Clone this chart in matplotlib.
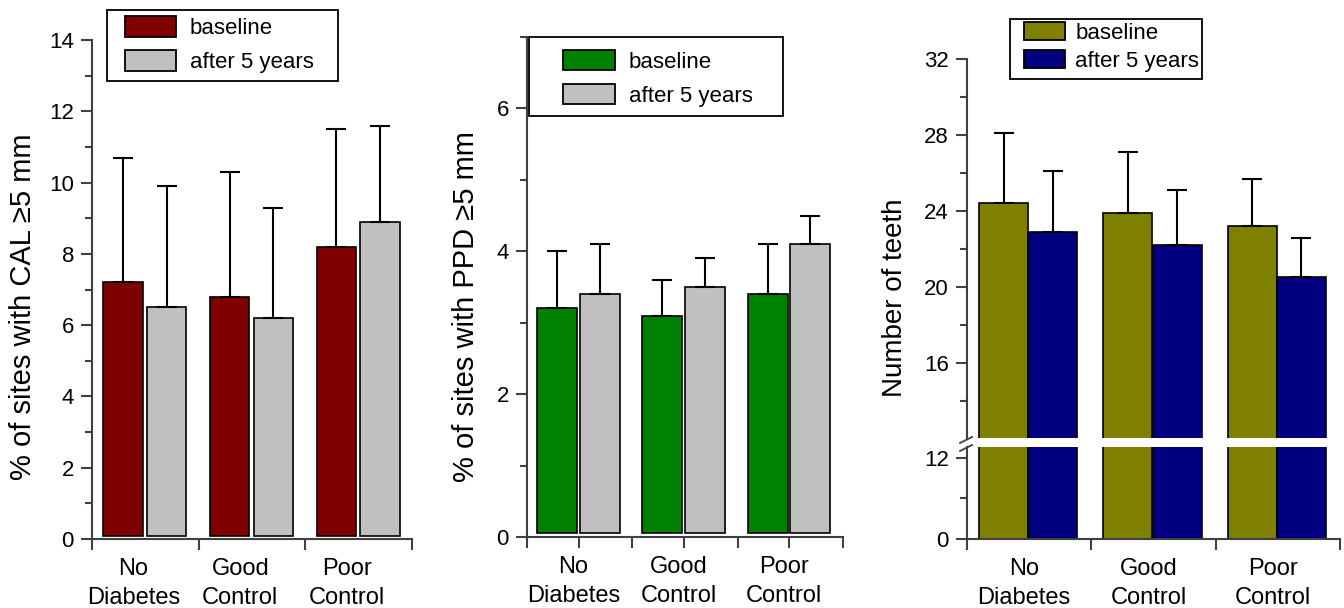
import matplotlib
matplotlib.use("Agg")
import matplotlib.pyplot as plt
from matplotlib.lines import Line2D
from matplotlib.patches import Rectangle
import numpy as np

plt.rcParams["font.family"] = ["Liberation Sans", "DejaVu Sans"]

groups = ["No\nDiabetes", "Good\nControl", "Poor\nControl"]
series = ["baseline", "after 5 years"]

# clinical attachment loss >= 5 mm (% of sites), mean and SD
cal_baseline = [7.2, 6.8, 8.2]
cal_baseline_sd = [3.5, 3.5, 3.3]
cal_after = [6.5, 6.2, 8.9]
cal_after_sd = [3.4, 3.1, 2.7]

# probing pocket depth >= 5 mm (% of sites)
ppd_baseline = [3.2, 3.1, 3.4]
ppd_baseline_sd = [0.8, 0.5, 0.7]
ppd_after = [3.4, 3.5, 4.1]
ppd_after_sd = [0.7, 0.4, 0.4]

# number of teeth
teeth_baseline = [24.4, 23.9, 23.2]
teeth_baseline_sd = [3.7, 3.2, 2.5]
teeth_after = [22.9, 22.2, 20.5]
teeth_after_sd = [3.2, 2.9, 2.1]

AXC = "#404040"
FS = 16
W, H = 1344, 608


def box(left, top, right, bottom):
    """pixel box -> figure fraction rect"""
    return [left / W, 1 - bottom / H, (right - left) / W, (bottom - top) / H]


def style(ax, show_x=True):
    for s in ("top", "right"):
        ax.spines[s].set_visible(False)
    for s in ("left", "bottom"):
        ax.spines[s].set_color(AXC)
        ax.spines[s].set_linewidth(1.5)
    ax.tick_params(axis="y", which="major", direction="out", length=8, width=1.5,
                   color=AXC, labelsize=FS, pad=5)
    ax.tick_params(axis="y", which="minor", direction="out", length=5, width=1.5,
                   color=AXC)
    ax.tick_params(axis="x", which="both", direction="out", length=8, width=1.5,
                   color=AXC, labelbottom=False)
    ax.set_xlim(0, 3)
    if not show_x:
        ax.spines["bottom"].set_visible(False)
        ax.tick_params(axis="x", which="both", bottom=False)


def bars(ax, base, base_sd, after, after_sd, colors, c0, c1, w, gap=0.0, err=True):
    x = np.arange(len(groups))
    base = np.asarray(base)
    after = np.asarray(after)
    ax.bar(x + c0, base - gap, w, bottom=gap, color=colors[0], edgecolor="black",
           linewidth=1.2, label=series[0])
    ax.bar(x + c1, after - gap, w, bottom=gap, color=colors[1], edgecolor="black",
           linewidth=1.2, label=series[1])
    if err:
        for cx, v, sd in ((x + c0, base, base_sd), (x + c1, after, after_sd)):
            ax.errorbar(cx, v, yerr=[np.zeros(len(v)), sd], fmt="none",
                        ecolor="black", elinewidth=1.5, capsize=7, capthick=1.5)


def group_labels(ax, shift):
    for i, g in enumerate(groups):
        ax.annotate(g, xy=(i + shift, 0), xycoords=("data", "axes fraction"),
                    xytext=(0, -14), textcoords="offset points", ha="center",
                    va="top", fontsize=17, linespacing=1.38)


def legend(ax, frame_px, anchor_px, **kw):
    l, t, r, b = frame_px
    ax.add_patch(Rectangle((l / W, 1 - b / H), (r - l) / W, (b - t) / H,
                           transform=fig.transFigure, facecolor="white",
                           edgecolor="black", linewidth=1.3, zorder=5,
                           clip_on=False))
    leg = ax.legend(loc="upper left",
                    bbox_to_anchor=(anchor_px[0] / W, 1 - anchor_px[1] / H),
                    bbox_transform=fig.transFigure, fontsize=FS, frameon=False,
                    borderpad=0, borderaxespad=0, **kw)
    leg.set_zorder(6)
    for p in leg.get_patches():
        p.set_linewidth(1.3)
    return leg


fig = plt.figure(figsize=(13.44, 6.08), dpi=100)

# --- CAL panel
ax1 = fig.add_axes(box(92, 40, 412, 539))
style(ax1)
bars(ax1, cal_baseline, cal_baseline_sd, cal_after, cal_after_sd,
     ("#800000", "#c0c0c0"), 0.29, 0.70, 0.37, gap=0.08)
ax1.set_ylim(0, 14)
ax1.set_yticks(np.arange(0, 15, 2))
ax1.set_yticks(np.arange(1, 14, 2), minor=True)
ax1.set_xticks([0, 1, 2, 3])
group_labels(ax1, 0.39)
legend(ax1, (107, 10, 338, 81), (125, 16), handlelength=2.3, handleheight=1.08,
       labelspacing=0.47, handletextpad=0.62)
fig.text(23 / W, 1 - 307 / H, "% of sites with CAL \u22655 mm", rotation=90,
         ha="center", va="center", fontsize=21)

# --- PPD panel
ax2 = fig.add_axes(box(527, 37, 843, 537))
style(ax2)
bars(ax2, ppd_baseline, ppd_baseline_sd, ppd_after, ppd_after_sd,
     ("#008000", "#c0c0c0"), 0.285, 0.69, 0.38, gap=0.06)
ax2.set_ylim(0, 7)
ax2.set_yticks([0, 2, 4, 6])
ax2.set_yticks([1, 3, 5, 7], minor=True)
ax2.set_xticks([0, 0.49, 1, 1.49, 2, 2.49, 3])
group_labels(ax2, 0.44)
legend(ax2, (529, 37, 783, 116), (563, 50), handlelength=2.35, handleheight=1.04,
       labelspacing=0.5, handletextpad=0.6)
fig.text(466 / W, 1 - 307 / H, "% of sites with PPD \u22655 mm", rotation=90,
         ha="center", va="center", fontsize=21)

# --- number of teeth, broken y axis
ax3 = fig.add_axes(box(967, 59, 1340, 438))
ax3b = fig.add_axes(box(967, 447, 1340, 539))
style(ax3, show_x=False)
style(ax3b)
bars(ax3, teeth_baseline, teeth_baseline_sd, teeth_after, teeth_after_sd,
     ("#808000", "#000080"), 0.294, 0.69, 0.395)
bars(ax3b, teeth_baseline, teeth_baseline_sd, teeth_after, teeth_after_sd,
     ("#808000", "#000080"), 0.294, 0.69, 0.395, err=False)
ax3.set_ylim(12.05, 32)
ax3.set_yticks([16, 20, 24, 28, 32])
ax3.set_yticks([14, 18, 22, 26, 30], minor=True)
ax3b.set_ylim(0, 13.6)
ax3b.set_yticks([0, 12])
ax3b.set_yticks([6], minor=True)
ax3b.set_xticks([0, 1, 2, 3])
group_labels(ax3b, 0.46)
legend(ax3, (1010, 19, 1202, 79), (1024, 22), handlelength=1.85,
       handleheight=0.9, labelspacing=0.26, handletextpad=0.45)
fig.text(895 / W, 1 - 298 / H, "Number of teeth", rotation=90,
         ha="center", va="center", fontsize=20)

# break marks on the y axis
for y0 in (443, 451):
    fig.add_artist(Line2D([960 / W, 972 / W], [1 - y0 / H, 1 - (y0 - 6) / H],
                          transform=fig.transFigure, color=AXC, lw=1.3))

fig.savefig("out.png", dpi=100)
